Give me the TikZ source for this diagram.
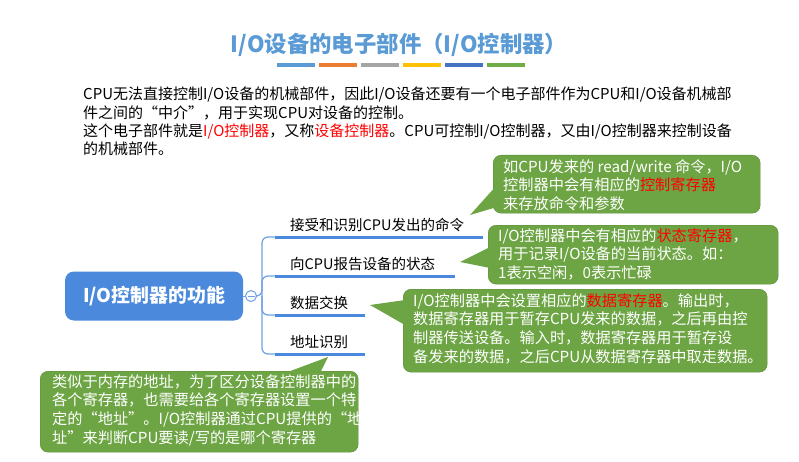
\documentclass[tikz,border=0pt]{standalone}
\usepackage{fontspec}
\setmainfont{Noto Sans CJK SC}
\usetikzlibrary{positioning}
\definecolor{tblue}{HTML}{5B9BD5}
\definecolor{rootblue}{HTML}{4A89DC}
\definecolor{cgreen}{HTML}{6DA544}
\definecolor{cgreenD}{HTML}{5A8C37}
\definecolor{hred}{HTML}{FF0000}
\begin{document}
\begin{tikzpicture}[x=1pt,y=-1pt,
  para/.style={anchor=west,font=\fontsize{15}{16}\selectfont,inner sep=0},
  callout/.style={fill=cgreen,draw=cgreenD,rounded corners=8pt,anchor=north west,inner sep=0pt},
  ctext/.style={anchor=north west,text=white,align=left,font=\fontsize{15.2}{18.8}\selectfont,inner sep=0},
  lab/.style={anchor=south west,font=\fontsize{14.5}{16}\selectfont,inner sep=1pt},
  uline/.style={draw=rootblue,line width=3pt},
  branch/.style={draw=rootblue!80,line width=1.2pt,rounded corners=6pt}]
\useasboundingbox (0,0) rectangle (799,462);
% title
\node[text=tblue,font=\fontsize{22.4}{24}\selectfont\bfseries] (title) at (399,45) {I/O设备的电子部件（I/O控制器）};
\foreach \c [count=\i] in {5B9BD5,ED7D31,A5A5A5,FFC000,4472C4,70AD47}{
  \definecolor{bc}{HTML}{\c}
  \fill[bc] (277+\i*42-42,63.5) rectangle ++(38,3.5);
}
% paragraph
\node[para] (p1) at (83,95) {CPU无法直接控制I/O设备的机械部件，因此I/O设备还要有一个电子部件作为CPU和I/O设备机械部};
\node[para] (p2) at (83,113) {件之间的“中介”，用于实现CPU对设备的控制。};
\node[para] (p3) at (83,131) {这个电子部件就是\textcolor{hred}{I/O控制器}，又称\textcolor{hred}{设备控制器}。CPU可控制I/O控制器，又由I/O控制器来控制设备};
\node[para] (p4) at (83,149) {的机械部件。};
% root
\node[fill=rootblue,rounded corners=9pt,text=white,font=\fontsize{18.9}{20}\selectfont\bfseries,
  minimum width=178pt,minimum height=49pt] (root) at (154,296) {I/O控制器的功能};
\node[circle,draw=rootblue!80,fill=white,line width=1pt,minimum size=11pt,inner sep=0] (dot) at (251,296) {};
\draw[rootblue!80,line width=1pt] (247.5,296) -- (254.5,296);
\draw[rootblue!80,line width=1pt] (root.east) -- (dot.west);
% branches
\coordinate (b1) at (275,237); \coordinate (b2) at (275,276);
\coordinate (b3) at (275,315); \coordinate (b4) at (275,354);
\draw[branch] (dot.east) -- (262,296) |- (b1);
\draw[branch] (262,296) |- (b4);
\draw[branch] (262,296) |- (b2);
\draw[branch] (262,296) |- (b3);
\draw[uline] (b1) -- (483,237);
\draw[uline] (b2) -- (455,276);
\draw[uline] (b3) -- (365,315);
\draw[uline] (b4) -- (365,354);
\node[lab] (l1) at (289,233) {接受和识别CPU发出的命令};
\node[lab] (l2) at (289,272) {向CPU报告设备的状态};
\node[lab] (l3) at (289,311) {数据交换};
\node[lab] (l4) at (289,350) {地址识别};
% callouts
\node[callout,minimum width=267pt,minimum height=58pt] (c1) at (493,155) {};
\fill[cgreen] (470,215) -- (497,185) -- (497,207) -- cycle;
\node[ctext] (t1) at (503,159)
 {如CPU发来的 read/write 命令，I/O\\控制器中会有相应的\textcolor{hred}{控制寄存器}\\来存放命令和参数};

\node[callout,minimum width=290pt,minimum height=59pt] (c2) at (488,225) {};
\fill[cgreen] (460,262) -- (490,247) -- (490,268) -- cycle;
\node[ctext] (t2) at (498,228)
 {I/O控制器中会有相应的\textcolor{hred}{状态寄存器}，\\用于记录I/O设备的当前状态。如：\\1表示空闲，0表示忙碌};

\node[callout,minimum width=364pt,minimum height=83pt] (c3) at (403,289) {};
\fill[cgreen] (370,305) -- (405,300) -- (405,325) -- cycle;
\node[ctext] (t3) at (413,293)
 {I/O控制器中会设置相应的\textcolor{hred}{数据寄存器}。输出时，\\数据寄存器用于暂存CPU发来的数据，之后再由控\\制器传送设备。输入时，数据寄存器用于暂存设\\备发来的数据，之后CPU从数据寄存器中取走数据。};

\node[callout,minimum width=318pt,minimum height=81pt] (c4) at (40,371) {};
\fill[cgreen] (328,357) -- (285,373) -- (320,373) -- cycle;
\node[ctext] (t4) at (52,374)
 {类似于内存的地址，为了区分设备控制器中的\\各个寄存器，也需要给各个寄存器设置一个特\\定的“地址”。I/O控制器通过CPU提供的“地\\址”来判断CPU要读/写的是哪个寄存器};
\end{tikzpicture}
\end{document}
